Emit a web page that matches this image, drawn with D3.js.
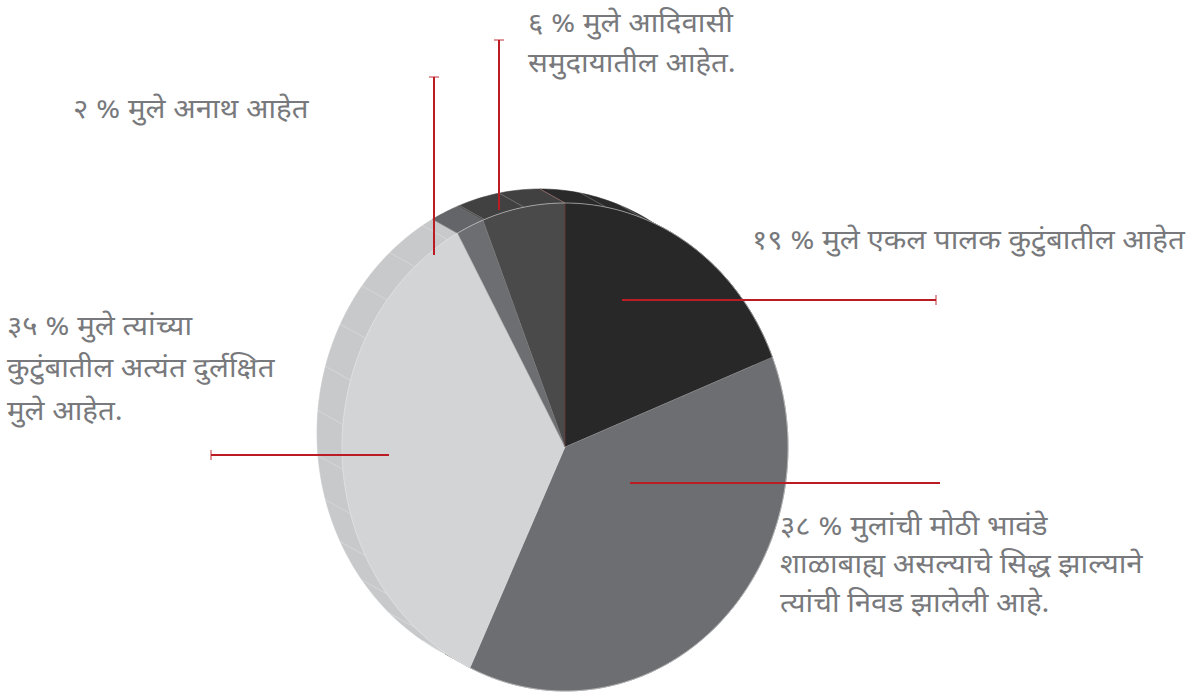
<!DOCTYPE html>
<html>
<head>
<meta charset="utf-8">
<script src="https://cdn.jsdelivr.net/npm/d3@7"></script>
<style>
  html, body { margin: 0; padding: 0; background: #fff; }
  svg { display: block; }
  .lbl { font-family: "Noto Sans Devanagari", "Lohit Devanagari", "Mangal", "Noto Sans", sans-serif; fill: #78797c; }
</style>
</head>
<body>
<script>
// data, clockwise from 12 o'clock
const values = [19, 38, 35, 2, 6];
const labels = [
  ['१९ % मुले एकल पालक कुटुंबातील आहेत'],
  ['३८ % मुलांची मोठी भावंडे', 'शाळाबाह्य असल्याचे सिद्ध झाल्याने', 'त्यांची निवड झालेली आहे.'],
  ['३५ % मुले त्यांच्या', 'कुटुंबातील अत्यंत दुर्लक्षित', 'मुले आहेत.'],
  ['२ % मुले अनाथ आहेत'],
  ['६ % मुले आदिवासी', 'समुदायातील आहेत.']
];
const faceColors = ['#282828', '#6d6e71', '#d3d4d6', '#6d6e71', '#4a4a4a'];
const sideColors = ['#2a2a2a', '#67686b', '#c8c9cb', '#646568', '#414141'];

// layout of the annotations (leader from -> to, tick at "to", text anchor)
const leaders = [
  { x1: 622, y1: 300, x2: 936, y2: 300, tick: true,  tx: 752, ty: 249, lh: 0 },
  { x1: 630, y1: 483, x2: 940, y2: 483, tick: false, tx: 780, ty: 535, lh: 38.5 },
  { x1: 389, y1: 455, x2: 211, y2: 455, tick: true,  tx: 7,   ty: 335, lh: 42.5 },
  { x1: 434, y1: 255, x2: 434, y2: 77,  tick: true,  tx: 73,  ty: 118, lh: 0 },
  { x1: 499, y1: 210, x2: 499, y2: 40,  tick: true,  tx: 528, ty: 32,  lh: 40 }
];

const W = 1197, H = 693;
const cx = 565, cy = 447, RX = 223, RY = 244;
const offX = -25, offY = -14;   // extrusion toward the back
const red = '#bb1c24';

const svg = d3.select('body').append('svg').attr('width', W).attr('height', H);

const pie = d3.pie().sort(null).value(d => d);
const arcs = pie(values);

const pt = (a, dx = 0, dy = 0) => [cx + dx + RX * Math.sin(a), cy + dy - RY * Math.cos(a)];
const samples = (a0, a1, dx, dy) => {
  const n = Math.max(2, Math.ceil((a1 - a0) / 0.02));
  return d3.range(n + 1).map(i => pt(a0 + (a1 - a0) * i / n, dx, dy));
};
const line = d3.line();

// side walls
svg.append('g').selectAll('path')
  .data(arcs)
  .join('path')
  .attr('d', d => line(samples(d.startAngle, d.endAngle, 0, 0)
      .concat(samples(d.startAngle, d.endAngle, offX, offY).reverse())) + 'Z')
  .attr('fill', (d, i) => sideColors[i])
  .attr('stroke', (d, i) => sideColors[i])
  .attr('stroke-width', 0.6);

// facet lines on the wall
const facets = d3.range(0, 2 * Math.PI, Math.PI / 17);
svg.append('g').selectAll('line')
  .data(facets)
  .join('line')
  .attr('x1', a => pt(a)[0]).attr('y1', a => pt(a)[1])
  .attr('x2', a => pt(a, offX, offY)[0]).attr('y2', a => pt(a, offX, offY)[1])
  .attr('stroke', '#ffffff').attr('stroke-opacity', 0.35).attr('stroke-width', 0.7);

// slice edges on the wall
svg.append('g').selectAll('line')
  .data(arcs)
  .join('line')
  .attr('x1', d => pt(d.startAngle)[0]).attr('y1', d => pt(d.startAngle)[1])
  .attr('x2', d => pt(d.startAngle, offX, offY)[0]).attr('y2', d => pt(d.startAngle, offX, offY)[1])
  .attr('stroke', (d, i) => i === 0 ? '#a04040' : '#9a9a9a').attr('stroke-opacity', 0.6).attr('stroke-width', 0.6);

// top faces
svg.append('g').selectAll('path')
  .data(arcs)
  .join('path')
  .attr('d', d => line([[cx, cy]].concat(samples(d.startAngle, d.endAngle, 0, 0))) + 'Z')
  .attr('fill', (d, i) => faceColors[i])
  .attr('stroke', (d, i) => faceColors[i])
  .attr('stroke-width', 0.4);

// rim highlight along the visible edge
svg.append('g').selectAll('path')
  .data(arcs)
  .join('path')
  .attr('d', d => line(samples(d.startAngle, d.endAngle, 0, 0)))
  .attr('fill', 'none')
  .attr('stroke', '#e6e6e6').attr('stroke-opacity', 0.7).attr('stroke-width', 0.8);

// radial edges
svg.append('g').selectAll('line')
  .data(arcs)
  .join('line')
  .attr('x1', cx).attr('y1', cy)
  .attr('x2', d => pt(d.startAngle)[0]).attr('y2', d => pt(d.startAngle)[1])
  .attr('stroke', (d, i) => i === 0 ? '#8a3030' : '#ffffff')
  .attr('stroke-opacity', (d, i) => i === 0 ? 0.8 : 0.25)
  .attr('stroke-width', 0.6);

// leaders
const lg = svg.append('g');
lg.selectAll('line.lead')
  .data(leaders)
  .join('line')
  .attr('class', 'lead')
  .attr('x1', d => d.x1).attr('y1', d => d.y1)
  .attr('x2', d => d.x2).attr('y2', d => d.y2)
  .attr('stroke', red).attr('stroke-width', 2);

lg.selectAll('line.tick')
  .data(leaders.filter(d => d.tick))
  .join('line')
  .attr('class', 'tick')
  .attr('x1', d => d.y1 === d.y2 ? d.x2 : d.x2 - 5)
  .attr('x2', d => d.y1 === d.y2 ? d.x2 : d.x2 + 5)
  .attr('y1', d => d.y1 === d.y2 ? d.y2 - 5 : d.y2)
  .attr('y2', d => d.y1 === d.y2 ? d.y2 + 5 : d.y2)
  .attr('stroke', red).attr('stroke-opacity', 0.7).attr('stroke-width', 1.3);

// labels (the source face is wider than the installed one, so stretch a little)
const tg = svg.append('g');
leaders.forEach((d, i) => {
  const t = tg.append('text').attr('class', 'lbl')
    .attr('transform', `translate(${d.tx},${d.ty}) scale(1.09,1)`)
    .attr('font-size', 27);
  labels[i].forEach((s, j) => {
    t.append('tspan').attr('x', 0).attr('y', j * d.lh).text(s);
  });
});
</script>
</body>
</html>
